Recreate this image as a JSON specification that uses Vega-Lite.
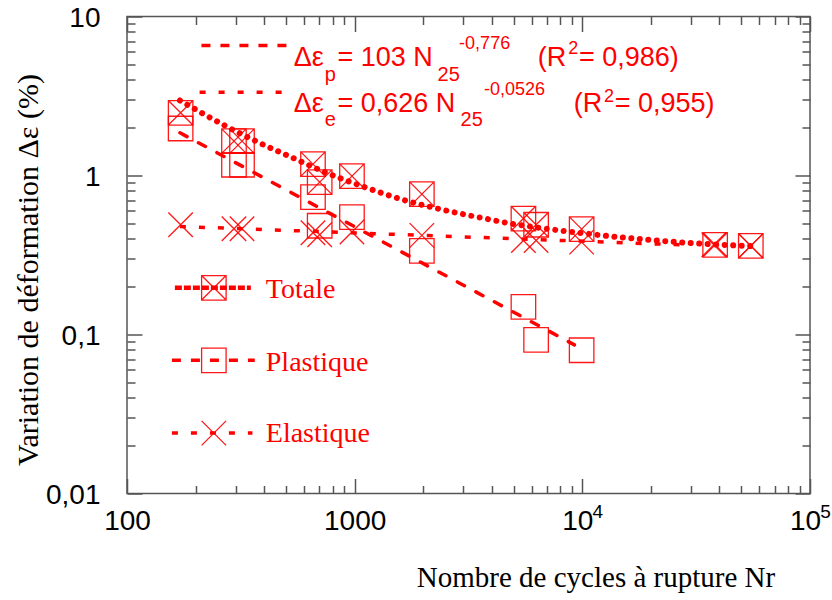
{
  "$schema": "https://vega.github.io/schema/vega-lite/v6.json",
  "width": 683,
  "height": 477,
  "autosize": {"type": "none"},
  "padding": {"left": 127, "top": 16.5, "right": 22, "bottom": 106.5},
  "background": "white",
  "config": {
    "view": {"stroke": "#555", "strokeWidth": 1.5},
    "axis": {"grid": false, "domainColor": "#555", "domainWidth": 1.5, "tickColor": "#555", "tickWidth": 1.5, "labelColor": "#000", "titleColor": "#000"}
  },
  "datasets": {
    "fitT": [
      {"N": 170.8, "de": 2.963}, {"N": 273.7, "de": 2.033}, {"N": 370.6, "de": 1.636}, {"N": 518.6, "de": 1.317},
      {"N": 777, "de": 1.02}, {"N": 1087, "de": 0.853}, {"N": 1628, "de": 0.7035}, {"N": 2525, "de": 0.602},
      {"N": 3653, "de": 0.5395}, {"N": 5120, "de": 0.492}, {"N": 7166, "de": 0.46}, {"N": 10030, "de": 0.434},
      {"N": 14050, "de": 0.411}, {"N": 19670, "de": 0.394}, {"N": 27540, "de": 0.379}, {"N": 38590, "de": 0.368},
      {"N": 54940, "de": 0.36}
    ],
    "fitP": [{"N": 170.8, "de": 1.856}, {"N": 9226, "de": 0.0861}],
    "fitE": [{"N": 170.8, "de": 0.478}, {"N": 29000, "de": 0.365}],
    "pts": [
      {"series": "Totale", "N": 172, "de": 2.48},
      {"series": "Totale", "N": 295, "de": 1.646},
      {"series": "Totale", "N": 320, "de": 1.646},
      {"series": "Totale", "N": 656, "de": 1.179},
      {"series": "Totale", "N": 702, "de": 0.909},
      {"series": "Totale", "N": 973, "de": 0.991},
      {"series": "Totale", "N": 1973, "de": 0.764},
      {"series": "Totale", "N": 5511, "de": 0.536},
      {"series": "Totale", "N": 6265, "de": 0.49},
      {"series": "Totale", "N": 9929, "de": 0.46},
      {"series": "Totale", "N": 38310, "de": 0.3665},
      {"series": "Totale", "N": 54950, "de": 0.361},
      {"series": "Plastique", "N": 172, "de": 1.975},
      {"series": "Plastique", "N": 295, "de": 1.168},
      {"series": "Plastique", "N": 320, "de": 1.168},
      {"series": "Plastique", "N": 656, "de": 0.731},
      {"series": "Plastique", "N": 702, "de": 0.483},
      {"series": "Plastique", "N": 973, "de": 0.547},
      {"series": "Plastique", "N": 1973, "de": 0.336},
      {"series": "Plastique", "N": 5511, "de": 0.149},
      {"series": "Plastique", "N": 6265, "de": 0.0926},
      {"series": "Plastique", "N": 9929, "de": 0.0796},
      {"series": "Elastique", "N": 172, "de": 0.49},
      {"series": "Elastique", "N": 295, "de": 0.462},
      {"series": "Elastique", "N": 320, "de": 0.462},
      {"series": "Elastique", "N": 656, "de": 0.436},
      {"series": "Elastique", "N": 702, "de": 0.424},
      {"series": "Elastique", "N": 973, "de": 0.441},
      {"series": "Elastique", "N": 1973, "de": 0.42},
      {"series": "Elastique", "N": 5511, "de": 0.39},
      {"series": "Elastique", "N": 6265, "de": 0.39},
      {"series": "Elastique", "N": 9929, "de": 0.381},
      {"series": "Elastique", "N": 37800, "de": 0.3665},
      {"series": "Elastique", "N": 54950, "de": 0.361}
    ],
    "legl": [
      {"series": "Totale", "x1": 162.3, "x2": 349.9, "y": 0.1966},
      {"series": "Plastique", "x1": 157.5, "x2": 364.1, "y": 0.06882},
      {"series": "Plastique", "x1": 212.3, "x2": 502.2, "y": 6.561},
      {"series": "Elastique", "x1": 157.5, "x2": 355.5, "y": 0.02398},
      {"series": "Elastique", "x1": 208.4, "x2": 488.2, "y": 3.342}
    ],
    "legm": [
      {"series": "Totale", "xm": 240.7, "y": 0.1966, "xt": 407, "yt": 0.1694},
      {"series": "Plastique", "xm": 240.7, "y": 0.06882, "xt": 407, "yt": 0.05853},
      {"series": "Elastique", "xm": 240.7, "y": 0.02398, "xt": 407, "yt": 0.02093}
    ],
    "eq": [
      {"t": "Δε", "x": 540, "y": 4.856, "role": "main"},
      {"t": "p", "x": 739, "y": 3.913, "role": "sub"},
      {"t": "= 103 N", "x": 840, "y": 4.856, "role": "main"},
      {"t": "25", "x": 2312, "y": 3.913, "role": "sub"},
      {"t": "-0,776", "x": 2876, "y": 6.291, "role": "sup"},
      {"t": "(R", "x": 6374, "y": 4.856, "role": "main"},
      {"t": "2", "x": 8675, "y": 5.827, "role": "sup"},
      {"t": "= 0,986)", "x": 9661, "y": 4.856, "role": "main"},
      {"t": "Δε", "x": 540, "y": 2.497, "role": "main"},
      {"t": "e", "x": 739, "y": 2.039, "role": "sub"},
      {"t": "= 0,626 N", "x": 840, "y": 2.497, "role": "main"},
      {"t": "25", "x": 2917, "y": 2.039, "role": "sub"},
      {"t": "-0,0526", "x": 3702, "y": 3.204, "role": "sup"},
      {"t": "(R", "x": 9159, "y": 2.497, "role": "main"},
      {"t": "2", "x": 12450, "y": 2.92, "role": "sup"},
      {"t": "= 0,955)", "x": 13880, "y": 2.497, "role": "main"}
    ]
  },
  "resolve": {"axis": {"x": "independent", "y": "independent"}},
  "layer": [
    {
      "data": {"name": "fitT"},
      "mark": {"type": "line", "color": "#ff0000", "strokeWidth": 6, "strokeDash": [0.01, 8.5], "strokeCap": "round", "interpolate": "monotone"},
      "encoding": {
        "x": {"field": "N", "type": "quantitative", "scale": {"type": "log", "domain": [100, 100000], "nice": false},
          "axis": {"orient": "bottom", "values": [100, 1000], "ticks": false, "tickSize": 0, "domain": false,
            "labelPadding": 36, "labelBaseline": "alphabetic", "labelFont": "Liberation Sans", "labelFontSize": 28, "labelFlush": false, "labelOverlap": false, "labelBound": false,
            "labelExpr": "datum.value > 500 ? '1000' : '100'",
            "title": "Nombre de cycles à rupture Nr", "titleFont": "Liberation Serif", "titleFontSize": 29, "titleFontWeight": "normal",
            "titleX": 468.5, "titleY": 92.5, "titleAlign": "center", "titleBaseline": "alphabetic", "titleAnchor": null}},
        "y": {"field": "de", "type": "quantitative", "scale": {"type": "log", "domain": [0.01, 10], "nice": false},
          "axis": {"orient": "left", "values": [0.01, 0.1, 1, 10], "ticks": false, "tickSize": 0, "domain": false,
            "labelPadding": 27, "labelOffset": 2, "labelFont": "Liberation Sans", "labelFontSize": 28, "labelFlush": false, "labelOverlap": false, "labelBaseline": "middle",
            "labelExpr": "datum.value < 0.05 ? '0,01' : datum.value < 0.5 ? '0,1' : datum.value < 5 ? '1' : '10'",
            "title": "Variation de déformation Δε (%)", "titleFont": "Liberation Serif", "titleFontSize": 30, "titleFontWeight": "normal",
            "titleAngle": -90, "titleX": -90, "titleY": 253, "titleAlign": "center", "titleBaseline": "alphabetic", "titleAnchor": null}}
      }
    },
    {
      "data": {"name": "fitP"},
      "mark": {"type": "line", "color": "#ff0000", "strokeWidth": 3.5, "strokeDash": [8, 13], "strokeCap": "round"},
      "encoding": {
        "x": {"field": "N", "type": "quantitative", "scale": {"type": "log", "domain": [100, 100000], "nice": false},
          "axis": {"orient": "bottom", "values": [100, 1000, 10000, 100000], "labels": false, "domain": false, "tickSize": 15, "offset": -15, "title": null}},
        "y": {"field": "de", "type": "quantitative", "scale": {"type": "log", "domain": [0.01, 10], "nice": false},
          "axis": {"orient": "left", "values": [0.01, 0.1, 1, 10], "labels": false, "domain": false, "tickSize": 15, "offset": -15, "title": null}}
      }
    },
    {
      "data": {"name": "fitE"},
      "mark": {"type": "line", "color": "#ff0000", "strokeWidth": 3.5, "strokeDash": [6, 13]},
      "encoding": {
        "x": {"field": "N", "type": "quantitative", "scale": {"type": "log", "domain": [100, 100000], "nice": false},
          "axis": {"orient": "bottom", "values": [200, 300, 400, 500, 600, 700, 800, 900, 2000, 3000, 4000, 5000, 6000, 7000, 8000, 9000, 20000, 30000, 40000, 50000, 60000, 70000, 80000, 90000], "labels": false, "domain": false, "tickSize": 8, "offset": -8, "title": null}},
        "y": {"field": "de", "type": "quantitative", "scale": {"type": "log", "domain": [0.01, 10], "nice": false},
          "axis": {"orient": "left", "values": [0.02, 0.03, 0.04, 0.05, 0.06, 0.07, 0.08, 0.09, 0.2, 0.3, 0.4, 0.5, 0.6, 0.7, 0.8, 0.9, 2, 3, 4, 5, 6, 7, 8, 9], "labels": false, "domain": false, "tickSize": 8, "offset": -8, "title": null}}
      }
    },
    {
      "data": {"name": "pts"},
      "mark": {"type": "point", "filled": false, "color": "#ff0000", "strokeWidth": 1.3, "size": 600, "opacity": 0.9},
      "encoding": {
        "x": {"field": "N", "type": "quantitative", "scale": {"type": "log", "domain": [100, 100000], "nice": false},
          "axis": {"orient": "top", "values": [100, 1000, 10000, 100000], "labels": false, "domain": false, "tickSize": 15, "offset": -15, "title": null}},
        "y": {"field": "de", "type": "quantitative", "scale": {"type": "log", "domain": [0.01, 10], "nice": false},
          "axis": {"orient": "right", "values": [0.01, 0.1, 1, 10], "labels": false, "domain": false, "tickSize": 15, "offset": -15, "title": null}},
        "shape": {"field": "series", "type": "nominal", "legend": null,
          "scale": {"domain": ["Totale", "Plastique", "Elastique"], "range": ["M-1,-1L1,-1L1,1L-1,1ZM-1,-1L1,1M1,-1L-1,1", "M-1,-1L1,-1L1,1L-1,1Z", "M-1,-1L1,1M1,-1L-1,1"]}}
      }
    },
    {
      "data": {"name": "legl"},
      "transform": [{"filter": "datum.series === 'Totale'"}],
      "mark": {"type": "rule", "color": "#ff0000", "strokeWidth": 4.5, "strokeDash": [7, 2]},
      "encoding": {
        "x": {"field": "x1", "type": "quantitative", "scale": {"type": "log", "domain": [100, 100000], "nice": false},
          "axis": {"orient": "top", "values": [200, 300, 400, 500, 600, 700, 800, 900, 2000, 3000, 4000, 5000, 6000, 7000, 8000, 9000, 20000, 30000, 40000, 50000, 60000, 70000, 80000, 90000], "labels": false, "domain": false, "tickSize": 8, "offset": -8, "title": null}},
        "x2": {"field": "x2"},
        "y": {"field": "y", "type": "quantitative", "scale": {"type": "log", "domain": [0.01, 10], "nice": false},
          "axis": {"orient": "right", "values": [0.02, 0.03, 0.04, 0.05, 0.06, 0.07, 0.08, 0.09, 0.2, 0.3, 0.4, 0.5, 0.6, 0.7, 0.8, 0.9, 2, 3, 4, 5, 6, 7, 8, 9], "labels": false, "domain": false, "tickSize": 8, "offset": -8, "title": null}}
      }
    },
    {
      "data": {"name": "legl"},
      "transform": [{"filter": "datum.series === 'Plastique'"}],
      "mark": {"type": "rule", "color": "#ff0000", "strokeWidth": 3.5, "strokeDash": [9, 10]},
      "encoding": {
        "x": {"field": "x1", "type": "quantitative", "scale": {"type": "log", "domain": [100, 100000], "nice": false},
          "axis": {"orient": "bottom", "values": [10000, 100000], "ticks": false, "tickSize": 0, "domain": false, "title": null,
            "labelPadding": 36, "labelBaseline": "alphabetic", "labelOffset": -5, "labelFont": "Liberation Sans", "labelFontSize": 28, "labelFlush": false, "labelOverlap": false, "labelBound": false,
            "labelExpr": "'10'"}},
        "x2": {"field": "x2"},
        "y": {"field": "y", "type": "quantitative", "scale": {"type": "log", "domain": [0.01, 10], "nice": false}, "axis": null}
      }
    },
    {
      "data": {"name": "legl"},
      "transform": [{"filter": "datum.series === 'Elastique'"}],
      "mark": {"type": "rule", "color": "#ff0000", "strokeWidth": 3.5, "strokeDash": [6, 13]},
      "encoding": {
        "x": {"field": "x1", "type": "quantitative", "scale": {"type": "log", "domain": [100, 100000], "nice": false},
          "axis": {"orient": "bottom", "values": [10000, 100000], "ticks": false, "tickSize": 0, "domain": false, "title": null,
            "labelPadding": 24, "labelBaseline": "alphabetic", "labelOffset": 15, "labelFont": "Liberation Sans", "labelFontSize": 19, "labelFlush": false, "labelOverlap": false, "labelBound": false,
            "labelExpr": "datum.value > 50000 ? '5' : '4'"}},
        "x2": {"field": "x2"},
        "y": {"field": "y", "type": "quantitative", "scale": {"type": "log", "domain": [0.01, 10], "nice": false}, "axis": null}
      }
    },
    {
      "data": {"name": "legm"},
      "mark": {"type": "point", "filled": false, "color": "#ff0000", "strokeWidth": 1.3, "size": 600, "opacity": 0.9},
      "encoding": {
        "x": {"field": "xm", "type": "quantitative", "scale": {"type": "log", "domain": [100, 100000], "nice": false}, "axis": null},
        "y": {"field": "y", "type": "quantitative", "scale": {"type": "log", "domain": [0.01, 10], "nice": false}, "axis": null},
        "shape": {"field": "series", "type": "nominal", "legend": null,
          "scale": {"domain": ["Totale", "Plastique", "Elastique"], "range": ["M-1,-1L1,-1L1,1L-1,1ZM-1,-1L1,1M1,-1L-1,1", "M-1,-1L1,-1L1,1L-1,1Z", "M-1,-1L1,1M1,-1L-1,1"]}}
      }
    },
    {
      "data": {"name": "legm"},
      "mark": {"type": "text", "color": "#ff0000", "font": "Liberation Serif", "fontSize": 28, "align": "left", "baseline": "alphabetic"},
      "encoding": {
        "x": {"field": "xt", "type": "quantitative", "scale": {"type": "log", "domain": [100, 100000], "nice": false}, "axis": null},
        "y": {"field": "yt", "type": "quantitative", "scale": {"type": "log", "domain": [0.01, 10], "nice": false}, "axis": null},
        "text": {"field": "series"}
      }
    },
    {
      "data": {"name": "eq"},
      "transform": [{"filter": "datum.role === 'main'"}],
      "mark": {"type": "text", "color": "#ff0000", "font": "Liberation Sans", "fontSize": 27, "align": "left", "baseline": "alphabetic"},
      "encoding": {
        "x": {"field": "x", "type": "quantitative", "scale": {"type": "log", "domain": [100, 100000], "nice": false}, "axis": null},
        "y": {"field": "y", "type": "quantitative", "scale": {"type": "log", "domain": [0.01, 10], "nice": false}, "axis": null},
        "text": {"field": "t"}
      }
    },
    {
      "data": {"name": "eq"},
      "transform": [{"filter": "datum.role === 'sub'"}],
      "mark": {"type": "text", "color": "#ff0000", "font": "Liberation Sans", "fontSize": 20, "align": "left", "baseline": "alphabetic"},
      "encoding": {
        "x": {"field": "x", "type": "quantitative", "scale": {"type": "log", "domain": [100, 100000], "nice": false}, "axis": null},
        "y": {"field": "y", "type": "quantitative", "scale": {"type": "log", "domain": [0.01, 10], "nice": false}, "axis": null},
        "text": {"field": "t"}
      }
    },
    {
      "data": {"name": "eq"},
      "transform": [{"filter": "datum.role === 'sup'"}],
      "mark": {"type": "text", "color": "#ff0000", "font": "Liberation Sans", "fontSize": 18, "align": "left", "baseline": "alphabetic"},
      "encoding": {
        "x": {"field": "x", "type": "quantitative", "scale": {"type": "log", "domain": [100, 100000], "nice": false}, "axis": null},
        "y": {"field": "y", "type": "quantitative", "scale": {"type": "log", "domain": [0.01, 10], "nice": false}, "axis": null},
        "text": {"field": "t"}
      }
    }
  ]
}
